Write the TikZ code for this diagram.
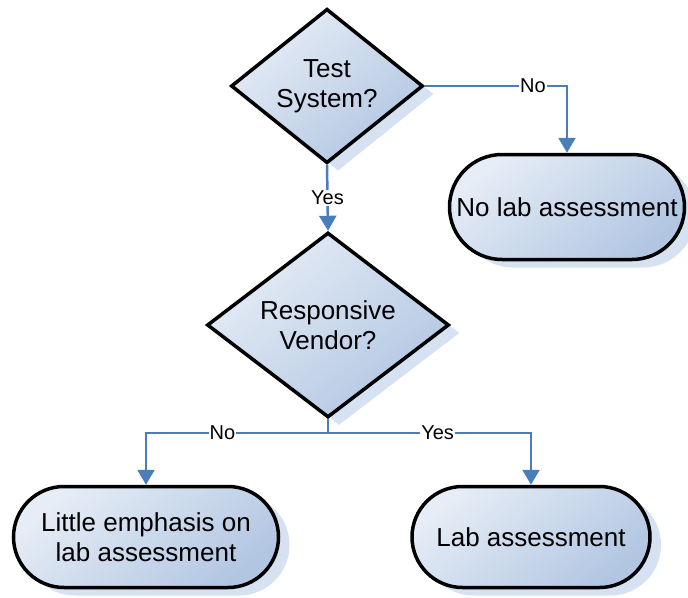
\documentclass[tikz,border=0pt]{standalone}
\usepackage{fontspec}
\setmainfont{Liberation Sans}
\usetikzlibrary{shapes.geometric,shapes.misc,shadows,arrows.meta}
\definecolor{flowline}{RGB}{74,126,187}
\definecolor{boxlight}{RGB}{230,237,246}
\definecolor{boxdark}{RGB}{178,198,226}
\definecolor{boxshadow}{RGB}{214,225,241}
\tikzset{
  boxbase/.style={draw=black, line width=3.5pt, align=center, inner sep=0pt,
    top color=boxlight, bottom color=boxdark, shading angle=40,
    font=\fontsize{26}{30}\selectfont,
    drop shadow={fill=boxshadow, opacity=1, shadow xshift=11pt, shadow yshift=-8pt}},
  decision/.style={boxbase, diamond},
  terminal/.style={boxbase, rounded rectangle},
  flow/.style={draw=flowline, line width=2.5pt, -{Triangle[width=17pt,length=15pt]}},
  answer/.style={fill=white, inner sep=1pt, font=\fontsize{20}{24}\selectfont}
}
\begin{document}
\begin{tikzpicture}[x=1pt,y=-1pt]
\useasboundingbox (0,0) rectangle (688,597);

\node[decision, minimum width=192pt, minimum height=144pt] (testsys) at (327,86) {Test\\System?};
\node[decision, minimum width=242pt, minimum height=144pt] (vendor) at (328,325) {Responsive\\Vendor?};
\node[terminal, minimum width=235pt, minimum height=105pt] (nolab) at (567,207) {No lab assessment};
\node[terminal, minimum width=265pt, minimum height=101pt] (little) at (146,537) {Little emphasis on\\lab assessment};
\node[terminal, minimum width=238pt, minimum height=101pt] (lab) at (531,537) {Lab assessment};
\coordinate (split) at (328,433);

\draw[flow] (testsys.east) -| node[answer, pos=0.38] {No} (nolab.north);
\draw[flow] (testsys.south) -- node[answer] {Yes} (vendor.north);
\draw[flow] (vendor.south) -- (split) -| node[answer, pos=0.29] {No} (little.north);
\draw[flow] (split) -| node[answer, pos=0.27] {Yes} (lab.north);
\end{tikzpicture}
\end{document}
